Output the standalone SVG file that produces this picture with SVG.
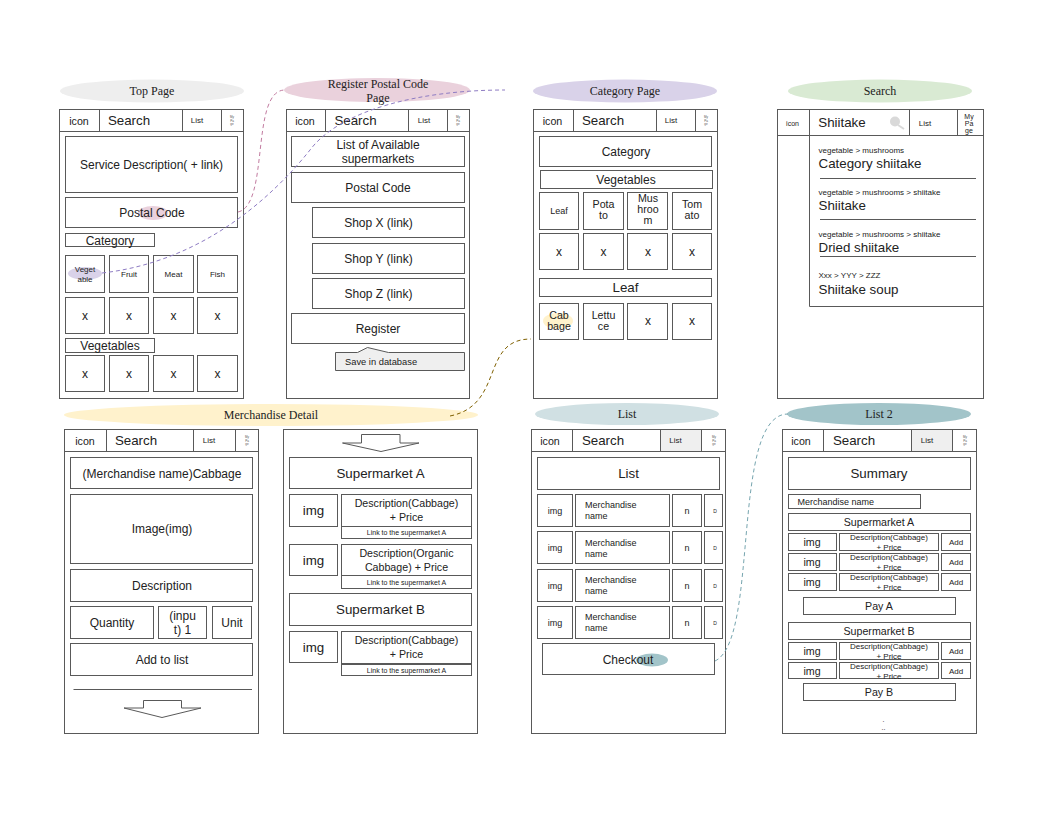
<svg xmlns="http://www.w3.org/2000/svg" width="1056" height="816" viewBox="0 0 1056 816">
<style>
rect,polygon,path.s,line{fill:none;stroke:#595959;stroke-width:1}
rect.g{fill:#efefef}
ellipse{stroke:none}
text{font-family:"Liberation Sans",Arial,sans-serif;fill:#222;text-anchor:middle}
.h{font-family:"Liberation Serif","Times New Roman",serif;font-size:12px}
.f3{font-size:3px;fill:#555}.f5{font-size:5px}.f7{font-size:7px}.f8{font-size:8px}.f9{font-size:9px}.f10{font-size:10.67px}.f12{font-size:12px}.f13{font-size:13.33px}
.l{text-anchor:start}
.c{fill:none;stroke-width:1;stroke-dasharray:4 3}
</style>
<rect x="0" y="0" width="1056" height="816" style="fill:#fff;stroke:none"/>

<g id="top-page">
<ellipse cx="152" cy="91" rx="92" ry="11.5" fill="#eeeeee"/>
<text class="h" x="152" y="95">Top Page</text>
<rect x="59.500" y="109.500" width="184" height="289"/>
<path class="s" d="M59.500 131.500H243.500M99.500 109.500V131.500M182.500 109.500V131.500M221.500 109.500V131.500"/>
<text class="f10" x="79" y="125">icon</text><text class="f13" x="129" y="125">Search</text><text class="f8" x="197" y="123">List</text><text class="f3" x="232" y="118">My</text><text class="f3" x="232" y="121.500">Pa</text><text class="f3" x="232" y="125">ge</text>
<rect x="65.500" y="136.500" width="172" height="56"/><text class="f12" x="151.500" y="169">Service Description( + link)</text>
<ellipse cx="153" cy="213" rx="15" ry="7" fill="#ead1dc"/>
<rect x="65.500" y="197.500" width="172" height="30"/><text class="f12" x="152" y="217">Postal Code</text>
<rect x="65.500" y="233.500" width="89" height="13"/><text class="f12" x="110" y="245">Category</text>
<ellipse cx="85" cy="273.500" rx="17" ry="6.500" fill="#d9d2e9"/>
<rect x="65.500" y="255.500" width="39" height="37"/><rect x="109.500" y="255.500" width="39" height="37"/><rect x="153.500" y="255.500" width="40" height="37"/><rect x="197.500" y="255.500" width="40" height="37"/>
<text class="f8" x="85" y="272">Veget</text><text class="f8" x="85" y="282">able</text><text class="f8" x="129" y="276.500">Fruit</text><text class="f8" x="173.500" y="276.500">Meat</text><text class="f8" x="217.500" y="276.500">Fish</text>
<rect x="65.500" y="297.500" width="39" height="36"/><rect x="109.500" y="297.500" width="39" height="36"/><rect x="153.500" y="297.500" width="40" height="36"/><rect x="197.500" y="297.500" width="40" height="36"/>
<text class="f12" x="85" y="320">x</text><text class="f12" x="129" y="320">x</text><text class="f12" x="173.500" y="320">x</text><text class="f12" x="217.500" y="320">x</text>
<rect x="65.500" y="338.500" width="89" height="14"/><text class="f12" x="110" y="350">Vegetables</text>
<rect x="65.500" y="355.500" width="39" height="36"/><rect x="109.500" y="355.500" width="39" height="36"/><rect x="153.500" y="355.500" width="40" height="36"/><rect x="197.500" y="355.500" width="40" height="36"/>
<text class="f12" x="85" y="378">x</text><text class="f12" x="129" y="378">x</text><text class="f12" x="173.500" y="378">x</text><text class="f12" x="217.500" y="378">x</text>
</g>

<g id="register-postal">
<ellipse cx="377" cy="90" rx="93" ry="12" fill="#ead1dc"/>
<text class="h" x="378" y="88">Register Postal Code</text><text class="h" x="378" y="102">Page</text>
<rect x="286.500" y="109.500" width="183" height="289"/>
<path class="s" d="M286.500 131.500H469.500M325.500 109.500V131.500M408.500 109.500V131.500M447.500 109.500V131.500"/>
<text class="f10" x="305" y="125">icon</text><text class="f13" x="355.500" y="125">Search</text><text class="f8" x="424" y="123">List</text><text class="f3" x="458" y="118">My</text><text class="f3" x="458" y="121.500">Pa</text><text class="f3" x="458" y="125">ge</text>
<rect x="291.500" y="136.500" width="173" height="30"/><text class="f12" x="378" y="149">List of Available</text><text class="f12" x="378" y="163">supermarkets</text>
<rect x="291.500" y="172.500" width="173" height="30"/><text class="f12" x="378" y="191.500">Postal Code</text>
<rect x="312.500" y="207.500" width="152" height="30"/><text class="f12" x="378.500" y="227">Shop X (link)</text>
<rect x="312.500" y="243.500" width="152" height="30"/><text class="f12" x="378.500" y="262.500">Shop Y (link)</text>
<rect x="312.500" y="278.500" width="152" height="30"/><text class="f12" x="378.500" y="298">Shop Z (link)</text>
<rect x="291.500" y="313.500" width="173" height="30"/><text class="f12" x="378" y="333">Register</text>
<path d="M335.500 352.500H357.500L367.500 347.500L388.500 352.500H464.500V370.500H335.500Z" fill="#efefef" stroke="#595959"/>
<text class="l" style="font-size:9.33px" x="345" y="365">Save in database</text>
</g>

<g id="category-page">
<ellipse cx="625" cy="91" rx="92" ry="11.500" fill="#d9d2e9"/>
<text class="h" x="625" y="95">Category Page</text>
<rect x="533.500" y="109.500" width="184" height="289"/>
<path class="s" d="M533.500 131.500H717.500M573.500 109.500V131.500M656.500 109.500V131.500M695.500 109.500V131.500"/>
<text class="f10" x="552.500" y="125">icon</text><text class="f13" x="603" y="125">Search</text><text class="f8" x="671" y="123">List</text><text class="f3" x="706" y="118">My</text><text class="f3" x="706" y="121.500">Pa</text><text class="f3" x="706" y="125">ge</text>
<rect x="539.500" y="136.500" width="172" height="30"/><text class="f12" x="626" y="156">Category</text>
<rect x="540.500" y="170.500" width="172" height="18"/><text class="f12" x="626" y="184">Vegetables</text>
<rect x="539.500" y="192.500" width="39" height="37"/><rect x="583.500" y="192.500" width="40" height="37"/><rect x="627.500" y="192.500" width="40" height="37"/><rect x="672.500" y="192.500" width="39" height="37"/>
<text class="f9" x="559" y="214">Leaf</text><text class="f10" x="603.500" y="208">Pota</text><text class="f10" x="603.500" y="219">to</text><text class="f10" x="648" y="202">Mus</text><text class="f10" x="648" y="213">hroo</text><text class="f10" x="648" y="224">m</text><text class="f10" x="692" y="208">Tom</text><text class="f10" x="692" y="219">ato</text>
<rect x="539.500" y="233.500" width="39" height="36"/><rect x="583.500" y="233.500" width="40" height="36"/><rect x="627.500" y="233.500" width="40" height="36"/><rect x="672.500" y="233.500" width="39" height="36"/>
<text class="f12" x="559" y="256">x</text><text class="f12" x="603.500" y="256">x</text><text class="f12" x="648" y="256">x</text><text class="f12" x="692" y="256">x</text>
<rect x="539.500" y="278.500" width="172" height="18"/><text class="f13" x="625.500" y="292">Leaf</text>
<ellipse cx="558" cy="321" rx="15" ry="8" fill="#fff2cc"/>
<rect x="539.500" y="303.500" width="39" height="36"/><rect x="583.500" y="303.500" width="40" height="36"/><rect x="627.500" y="303.500" width="40" height="36"/><rect x="672.500" y="303.500" width="39" height="36"/>
<text class="f10" x="559" y="319">Cab</text><text class="f10" x="559" y="330">bage</text><text class="f10" x="603.500" y="319">Lettu</text><text class="f10" x="603.500" y="330">ce</text>
<text class="f12" x="648" y="325">x</text><text class="f12" x="692" y="325">x</text>
</g>

<g id="search">
<ellipse cx="880" cy="91" rx="92" ry="11.500" fill="#d9ead3"/>
<text class="h" x="880" y="95">Search</text>
<rect x="777.500" y="109.500" width="206" height="289"/>
<path class="s" d="M777.500 135.500H983.500M809.500 109.500V306.500H983.500M909.500 109.500V135.500M957.500 109.500V135.500M820 178.500H976M820 219.500H976M820 256.500H976"/>
<text class="f7" x="792.500" y="126">icon</text>
<text class="f13" x="842" y="127">Shiitake</text>
<circle cx="895" cy="121.500" r="5" fill="#d9d9d9"/><line x1="898" y1="125" x2="904" y2="129" style="stroke:#d9d9d9;stroke-width:2"/>
<text class="f8" x="925" y="126">List</text>
<text class="f7" x="969" y="119">My</text><text class="f7" x="969" y="126">Pa</text><text class="f7" x="969" y="133">ge</text>
<text class="f8 l" x="818.500" y="153">vegetable &gt; mushrooms</text><text class="f13 l" x="818.500" y="168">Category shiitake</text>
<text class="f8 l" x="818.500" y="195">vegetable &gt; mushrooms &gt; shiitake</text><text class="f13 l" x="818.500" y="210">Shiitake</text>
<text class="f8 l" x="818.500" y="237">vegetable &gt; mushrooms &gt; shiitake</text><text class="f13 l" x="818.500" y="252">Dried shiitake</text>
<text class="f8 l" x="818.500" y="278">Xxx &gt; YYY &gt; ZZZ</text><text class="f13 l" x="818.500" y="294">Shiitake soup</text>
</g>

<g id="merchandise-detail">
<ellipse cx="271" cy="415" rx="207" ry="11" fill="#fff2cc"/>
<text class="h" x="271" y="419">Merchandise Detail</text>
<rect x="64.500" y="429.500" width="194" height="304"/>
<path class="s" d="M64.500 451.500H258.500M106.500 429.500V451.500M193.500 429.500V451.500M235.500 429.500V451.500"/>
<text class="f10" x="85" y="445">icon</text><text class="f13" x="136" y="445">Search</text><text class="f8" x="209" y="443">List</text><text class="f3" x="247" y="438">My</text><text class="f3" x="247" y="441.500">Pa</text><text class="f3" x="247" y="445">ge</text>
<rect x="70.500" y="457.500" width="182" height="31"/><text class="f12" x="162" y="478">(Merchandise name)Cabbage</text>
<rect x="70.500" y="494.500" width="182" height="69"/><text class="f12" x="162" y="533">Image(img)</text>
<rect x="70.500" y="569.500" width="182" height="32"/><text class="f12" x="162" y="590">Description</text>
<rect x="70.500" y="606.500" width="83" height="32"/><text class="f12" x="112" y="627">Quantity</text>
<rect x="158.500" y="606.500" width="48" height="32"/><text class="f12" x="182.500" y="620">(inpu</text><text class="f12" x="182.500" y="634">t) 1</text>
<rect x="212.500" y="606.500" width="39" height="32"/><text class="f12" x="232" y="627">Unit</text>
<rect x="70.500" y="643.500" width="182" height="32"/><text class="f12" x="162" y="664">Add to list</text>
<line x1="73.500" y1="689.500" x2="252" y2="689.500"/>
<polygon points="124,708 143.500,708 143.500,700.500 181.500,700.500 181.500,708 201,708 162,717.500"/>
</g>

<g id="merchandise-detail-2">
<rect x="283.500" y="429.500" width="194" height="304"/>
<polygon points="342.500,443 361.500,443 361.500,434.500 400,434.500 400,443 419,443 381,451.500"/>
<rect x="289.500" y="457.500" width="182" height="31"/><text class="f13" x="380.500" y="478">Supermarket A</text>
<rect x="289.500" y="494.500" width="48" height="32"/><text class="f13" x="313.500" y="515">img</text>
<rect x="341.500" y="494.500" width="130" height="32"/><text class="f10" x="406.500" y="507">Description(Cabbage)</text><text class="f10" x="406.500" y="521">+ Price</text>
<rect x="341.500" y="526.500" width="130" height="12"/><text class="f7" x="406.500" y="535">Link to the supermarket A</text>
<rect x="289.500" y="544.500" width="48" height="31"/><text class="f13" x="313.500" y="565">img</text>
<rect x="341.500" y="544.500" width="130" height="31"/><text class="f10" x="406.500" y="557">Description(Organic</text><text class="f10" x="406.500" y="571">Cabbage) + Price</text>
<rect x="341.500" y="575.500" width="130" height="13"/><text class="f7" x="406.500" y="585">Link to the supermarket A</text>
<rect x="289.500" y="593.500" width="182" height="32"/><text class="f13" x="380.500" y="614">Supermarket B</text>
<rect x="289.500" y="631.500" width="48" height="31"/><text class="f13" x="313.500" y="652">img</text>
<rect x="341.500" y="631.500" width="130" height="32"/><text class="f10" x="406.500" y="644">Description(Cabbage)</text><text class="f10" x="406.500" y="658">+ Price</text>
<rect x="341.500" y="664.500" width="130" height="11"/><text class="f7" x="406.500" y="672.500">Link to the supermarket A</text>
</g>

<g id="list">
<ellipse cx="627" cy="414" rx="92" ry="11" fill="#d0e0e3"/>
<text class="h" x="627" y="418">List</text>
<rect x="531.500" y="429.500" width="194" height="304"/>
<rect class="g" x="660.500" y="429.500" width="41" height="22"/>
<path class="s" d="M531.500 451.500H725.500M572.500 429.500V451.500M701.500 429.500V451.500"/>
<text class="f10" x="550" y="445">icon</text><text class="f13" x="603" y="445">Search</text><text class="f8" x="675.500" y="443">List</text><text class="f3" x="714" y="438">My</text><text class="f3" x="714" y="441.500">Pa</text><text class="f3" x="714" y="445">ge</text>
<rect x="537.500" y="457.500" width="182" height="32"/><text class="f13" x="628.500" y="478">List</text>
<rect x="537.500" y="494.500" width="35" height="32"/><rect x="575.500" y="494.500" width="94" height="32"/><rect x="672.500" y="494.500" width="29" height="32"/><rect x="704.500" y="494.500" width="18" height="32"/>
<text class="f9" x="555" y="514">img</text><text class="f9 l" x="585" y="508">Merchandise</text><text class="f9 l" x="585" y="519">name</text><text class="f9" x="687" y="514">n</text><text class="f5" x="715" y="513">D</text>
<rect x="537.500" y="531.500" width="35" height="32"/><rect x="575.500" y="531.500" width="94" height="32"/><rect x="672.500" y="531.500" width="29" height="32"/><rect x="704.500" y="531.500" width="18" height="32"/>
<text class="f9" x="555" y="551">img</text><text class="f9 l" x="585" y="546">Merchandise</text><text class="f9 l" x="585" y="557">name</text><text class="f9" x="687" y="551">n</text><text class="f5" x="715" y="550">D</text>
<rect x="537.500" y="569.500" width="35" height="32"/><rect x="575.500" y="569.500" width="94" height="32"/><rect x="672.500" y="569.500" width="29" height="32"/><rect x="704.500" y="569.500" width="18" height="32"/>
<text class="f9" x="555" y="589">img</text><text class="f9 l" x="585" y="583">Merchandise</text><text class="f9 l" x="585" y="594">name</text><text class="f9" x="687" y="589">n</text><text class="f5" x="715" y="588">D</text>
<rect x="537.500" y="606.500" width="35" height="32"/><rect x="575.500" y="606.500" width="94" height="32"/><rect x="672.500" y="606.500" width="29" height="32"/><rect x="704.500" y="606.500" width="18" height="32"/>
<text class="f9" x="555" y="626">img</text><text class="f9 l" x="585" y="620">Merchandise</text><text class="f9 l" x="585" y="631">name</text><text class="f9" x="687" y="626">n</text><text class="f5" x="715" y="625">D</text>
<ellipse cx="652" cy="660" rx="16" ry="6.500" fill="#a2c4c9"/>
<rect x="542.500" y="643.500" width="172" height="31"/><text class="f12" x="628" y="663.500">Checkout</text>
</g>

<g id="list-2">
<ellipse cx="879" cy="414" rx="92" ry="11" fill="#a2c4c9"/>
<text class="h" x="879" y="418">List 2</text>
<rect x="782.500" y="429.500" width="194" height="304"/>
<rect class="g" x="911.500" y="429.500" width="41" height="22"/>
<path class="s" d="M782.500 451.500H976.500M823.500 429.500V451.500M952.500 429.500V451.500"/>
<text class="f10" x="801" y="445">icon</text><text class="f13" x="854" y="445">Search</text><text class="f8" x="927" y="443">List</text><text class="f3" x="965" y="438">My</text><text class="f3" x="965" y="441.500">Pa</text><text class="f3" x="965" y="445">ge</text>
<rect x="788.500" y="457.500" width="182" height="32"/><text class="f13" x="879" y="478">Summary</text>
<rect x="788.500" y="494.500" width="132" height="14"/><text class="f9 l" x="797.500" y="505">Merchandise name</text>
<rect x="788.500" y="513.500" width="182" height="17"/><text class="f10" x="879" y="526">Supermarket A</text>
<rect x="788.500" y="533.500" width="48" height="17"/><rect x="839.500" y="533.500" width="99" height="17"/><rect x="941.500" y="533.500" width="29" height="17"/>
<text class="f10" x="812" y="546">img</text><text class="f8" x="889" y="540">Description(Cabbage)</text><text class="f8" x="889" y="550">+ Price</text><text class="f8" x="956" y="545">Add</text>
<rect x="788.500" y="553.500" width="48" height="17"/><rect x="839.500" y="553.500" width="99" height="17"/><rect x="941.500" y="553.500" width="29" height="17"/>
<text class="f10" x="812" y="566">img</text><text class="f8" x="889" y="560">Description(Cabbage)</text><text class="f8" x="889" y="570">+ Price</text><text class="f8" x="956" y="565">Add</text>
<rect x="788.500" y="573.500" width="48" height="17"/><rect x="839.500" y="573.500" width="99" height="17"/><rect x="941.500" y="573.500" width="29" height="17"/>
<text class="f10" x="812" y="586">img</text><text class="f8" x="889" y="580">Description(Cabbage)</text><text class="f8" x="889" y="590">+ Price</text><text class="f8" x="956" y="585">Add</text>
<rect x="803.500" y="597.500" width="152" height="17"/><text class="f10" x="879" y="610">Pay A</text>
<rect x="788.500" y="622.500" width="182" height="17"/><text class="f10" x="879" y="635">Supermarket B</text>
<rect x="788.500" y="642.500" width="48" height="17"/><rect x="839.500" y="642.500" width="99" height="17"/><rect x="941.500" y="642.500" width="29" height="17"/>
<text class="f10" x="812" y="655">img</text><text class="f8" x="889" y="649">Description(Cabbage)</text><text class="f8" x="889" y="659">+ Price</text><text class="f8" x="956" y="654">Add</text>
<rect x="788.500" y="662.500" width="48" height="16"/><rect x="839.500" y="662.500" width="99" height="16"/><rect x="941.500" y="662.500" width="29" height="16"/>
<text class="f10" x="812" y="675">img</text><text class="f8" x="889" y="669">Description(Cabbage)</text><text class="f8" x="889" y="679">+ Price</text><text class="f8" x="956" y="674">Add</text>
<rect x="803.500" y="683.500" width="152" height="17"/><text class="f10" x="879" y="696">Pay B</text>
<text class="f7" x="883.500" y="722">.</text><text class="f7" x="883.500" y="730">..</text>
</g>

<g id="connectors">
<path class="c" stroke="#c27ba0" d="M238 212C270 205 250 90 285 90"/>
<path class="c" stroke="#8e7cc3" d="M102 273C200 262 270 200 310 150C340 110 420 90 505 90"/>
<path class="c" stroke="#7f6000" d="M450 416C505 405 480 339 531 339"/>
<path class="c" stroke="#76a5af" d="M715 661C760 640 730 414 788 414"/>
</g>
</svg>
